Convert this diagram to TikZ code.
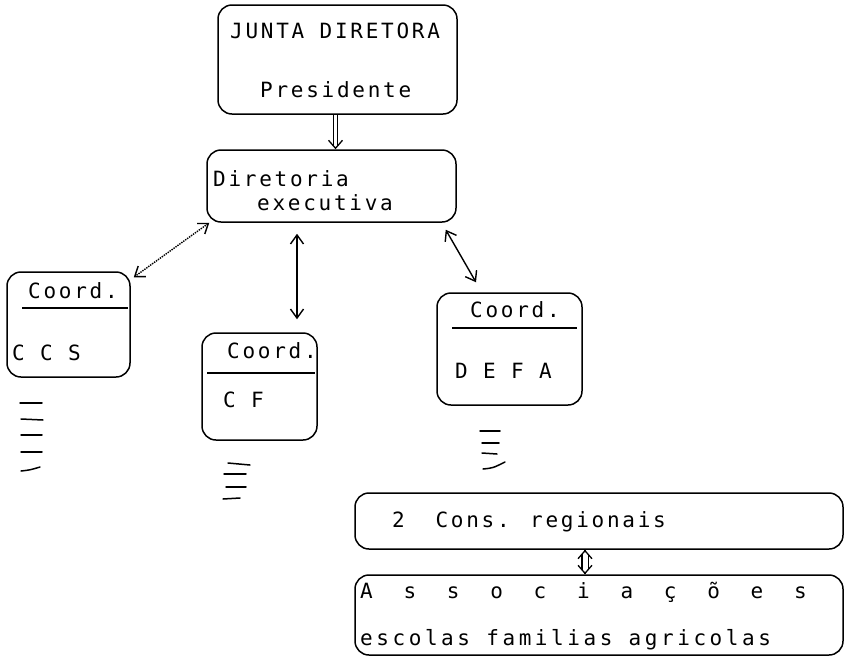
\documentclass[tikz,border=0pt]{standalone}
\usepackage{fontspec}
\usetikzlibrary{arrows.meta}
\newfontfamily\dm[LetterSpace=13]{DejaVu Sans Mono}
\begin{document}
\begin{tikzpicture}[x=1pt,y=-1pt,
  box/.style={draw, line width=1.5pt, rounded corners=14pt, inner sep=0pt},
  txt/.style={anchor=base west, inner sep=0pt, font=\dm\fontsize{21}{21}\selectfont},
  barb/.style={line width=1.4pt, {Straight Barb[length=9pt,width=13pt]}-{Straight Barb[length=9pt,width=13pt]}},
  dbl/.style={double, double distance=3.5pt, line width=1.1pt},
  headonly/.style={line width=1.3pt, -{Straight Barb[length=8pt,width=14pt]}},
  hatch/.style={line width=1.5pt, line cap=round}
]
\useasboundingbox (0,0) rectangle (848,662);
% boxes
\node[box, minimum width=239pt, minimum height=109pt] (junta) at (337.5,59.5) {};
\node[box, minimum width=249pt, minimum height=72pt] (dir) at (331.5,186) {};
\node[box, minimum width=123pt, minimum height=105pt] (ccs) at (68.5,324.5) {};
\node[box, minimum width=115pt, minimum height=107pt] (cf) at (259.5,386.5) {};
\node[box, minimum width=145pt, minimum height=112pt] (defa) at (509.5,349) {};
\node[box, minimum width=488pt, minimum height=56pt] (cons) at (599,521) {};
\node[box, minimum width=488pt, minimum height=80pt] (assoc) at (599,615) {};
% texts
\node[txt] (t1) at (230,38) {JUNTA DIRETORA};
\node[txt] (t2) at (260,97) {Presidente};
\node[txt] (t3) at (213,186) {Diretoria};
\node[txt] (t4) at (257,210) {executiva};
\node[txt] (t5) at (28,298) {Coord.};
\node[txt] (t6) at (12,360) {C C S};
\node[txt] (t7) at (227,358) {Coord.};
\node[txt] (t8) at (223,407) {C F};
\node[txt] (t9) at (470,317) {Coord.};
\node[txt] (t10) at (455,378) {D E F A};
\node[txt] (t11) at (392,527) {2\ \ Cons. regionais};
\node[txt] (t12) at (360,598) {A\ \ s\ \ s\ \ o\ \ c\ \ i\ \ a\ \ ç\ \ õ\ \ e\ \ s};
\node[txt] (t13) at (360,645) {\addfontfeature{LetterSpace=17}escolas familias agricolas};
% dividers
\draw[line width=1.4pt] (22,308) -- (128,308);
\draw[line width=1.4pt] (207,373) -- (315,373);
\draw[line width=1.4pt] (452,328) -- (577,328);
% connectors
\draw[dbl, shorten >=3pt] ([xshift=-2pt]junta.south) -- ([xshift=-2pt]junta.south |- dir.north);
\draw[headonly, shorten <=34pt] ([xshift=-2pt]junta.south) -- ([xshift=-2pt]junta.south |- dir.north);
\draw[barb, densely dotted] ([shift={(3pt,0pt)}]dir.south west) -- ([shift={(3pt,-6pt)}]ccs.north east);
\draw[barb] ([xshift=-34.5pt]dir.south) -- ([xshift=37.5pt]cf.north)
  [shorten <=11pt, shorten >=13pt];
\draw[barb] ([shift={(-11pt,-7pt)}]dir.south east) -- ([shift={(-33.5pt,10pt)}]defa.north);
\draw[dbl, double distance=5pt, shorten >=4pt, shorten <=4pt] ([xshift=-14pt]cons.south) -- ([xshift=-14pt]assoc.north);
\draw[headonly, shorten <=24pt] ([xshift=-14pt]cons.south) -- ([xshift=-14pt]assoc.north);
\draw[headonly, shorten <=24pt] ([xshift=-14pt]assoc.north) -- ([xshift=-14pt]cons.south);
% hatches
\draw[hatch] (20,403) -- (42,403);
\draw[hatch] (21,419) -- (43,420);
\draw[hatch] (21,435) -- (42,435);
\draw[hatch] (21,452) -- (42,452);
\draw[hatch] (21,471) .. controls (30,470) .. (40,467);
\draw[hatch] (228,463) -- (250,465);
\draw[hatch] (224,474) -- (246,474);
\draw[hatch] (226,487) -- (246,487);
\draw[hatch] (223,499) -- (240,498);
\draw[hatch] (480,431) -- (500,431);
\draw[hatch] (482,443) -- (499,443);
\draw[hatch] (482,453) -- (497,454);
\draw[hatch] (483,469) .. controls (493,468) .. (505,462);
\end{tikzpicture}
\end{document}
